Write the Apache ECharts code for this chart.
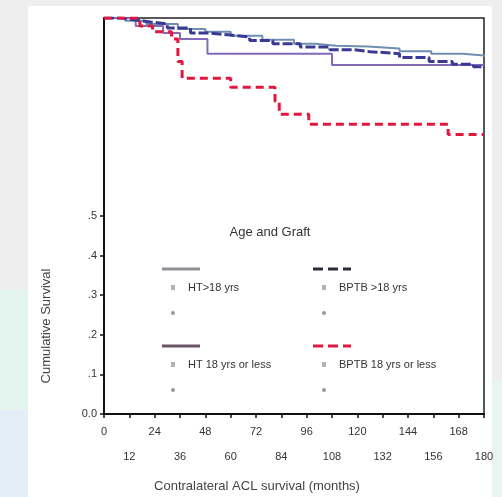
<!DOCTYPE html>
<html>
<head>
<meta charset="utf-8">
<script src="https://cdn.jsdelivr.net/npm/echarts@6/dist/echarts.min.js"></script>
<style>
html,body{margin:0;padding:0;background:#eeeeee;}
#c{width:502px;height:497px;}
</style>
</head>
<body>
<div id="c"></div>
<script>
// ---- data (months, cumulative survival) ----
const htOver18T   = [0, 10, 20, 35, 48, 60, 75, 90, 100, 110, 125, 140, 155, 170, 180];
const htOver18S   = [1.0, 0.993, 0.985, 0.972, 0.965, 0.955, 0.945, 0.935, 0.93, 0.928, 0.923, 0.916, 0.91, 0.905, 0.902];
const bptbOver18T = [0, 8, 15, 22, 30, 41, 50, 60, 69, 80, 93, 107, 118, 126, 140, 154, 165, 175, 180];
const bptbOver18S = [1.0, 0.995, 0.99, 0.985, 0.975, 0.962, 0.957, 0.952, 0.943, 0.935, 0.927, 0.92, 0.915, 0.91, 0.9, 0.89, 0.883, 0.877, 0.875];
const htUnder18T  = [0, 15, 28, 36, 49, 108, 180];
const htUnder18S  = [1.0, 0.98, 0.962, 0.947, 0.91, 0.881, 0.881];
const bptbUnder18T = [0, 17, 23, 32, 35, 37, 60, 81, 83, 97, 163, 180];
const bptbUnder18S = [1.0, 0.98, 0.965, 0.947, 0.89, 0.848, 0.825, 0.79, 0.757, 0.732, 0.706, 0.706];

const seriesNames = ['HT>18 yrs', 'BPTB >18 yrs', 'HT 18 yrs or less', 'BPTB 18 yrs or less'];
const yLabelValues = [0, 0.1, 0.2, 0.3, 0.4, 0.5];
const yLabelTexts  = ['0.0', '.1', '.2', '.3', '.4', '.5'];
const legendTitle = 'Age and Graft';
const xTitle = 'Contralateral ACL survival (months)';
const yTitle = 'Cumulative Survival';

function pairs(t, s) { return t.map((v, i) => [v, s[i]]); }

const FONT = 'Liberation Sans';
const chart = echarts.init(document.getElementById('c'), null, {renderer: 'canvas'});

function legendItem(x, y, name, color, dashed) {
  return [
    {type: 'line', shape: {x1: x, y1: y, x2: x + 38, y2: y},
     style: {stroke: color, lineWidth: 3, lineDash: dashed ? [10, 5] : null}},
    {type: 'rect', shape: {x: x + 9, y: y + 16, width: 4, height: 5}, style: {fill: '#b8b0b8'}},
    {type: 'text', x: x + 26, y: y + 13, style: {text: name, font: '11px ' + FONT, fill: '#333'}},
    {type: 'circle', shape: {cx: x + 11, cy: y + 44, r: 2}, style: {fill: '#999'}}
  ];
}

const option = {
  backgroundColor: 'transparent',
  animation: false,
  graphic: [
    {type: 'rect', z: -100, shape: {x: 28, y: 6, width: 464, height: 491}, style: {fill: '#ffffff'}},
    {type: 'rect', z: -100, shape: {x: 0, y: 290, width: 28, height: 120}, style: {fill: '#e3f5ee'}},
    {type: 'rect', z: -100, shape: {x: 0, y: 410, width: 28, height: 87}, style: {fill: '#e2eff9'}},
    {type: 'rect', z: -100, shape: {x: 492, y: 380, width: 10, height: 117}, style: {fill: '#e6f5f0'}},
    {type: 'text', x: 270, y: 226, style: {text: legendTitle, font: '13px ' + FONT, fill: '#333', align: 'center'}},
    {type: 'text', x: 46, y: 326, rotation: Math.PI / 2,
     style: {text: yTitle, font: '13px ' + FONT, fill: '#444', align: 'center', verticalAlign: 'middle'}},
    {type: 'text', x: 257, y: 480, style: {text: xTitle, font: '13px ' + FONT, fill: '#444', align: 'center'}},
    ...legendItem(162, 269, seriesNames[0], '#8f8f96', false),
    ...legendItem(313, 269, seriesNames[1], '#2a2a3a', true),
    ...legendItem(162, 346, seriesNames[2], '#6a5466', false),
    ...legendItem(313, 346, seriesNames[3], '#e3163e', true)
  ],
  grid: {left: 104, right: 18, top: 18, bottom: 83, show: true, borderColor: '#222', borderWidth: 1.5, backgroundColor: 'transparent'},
  xAxis: {
    type: 'value', min: 0, max: 180, interval: 12,
    axisLine: {lineStyle: {color: '#111', width: 2}},
    axisTick: {show: true, length: 4, lineStyle: {color: '#111', width: 1.5}},
    splitLine: {show: false},
    axisLabel: {
      color: '#333', fontFamily: FONT, fontSize: 11, margin: 5, lineHeight: 25,
      formatter: v => (v % 24 === 0 ? String(v) : '\n' + v)
    }
  },
  yAxis: {
    type: 'value', min: 0, max: 1, interval: 0.1,
    axisLine: {show: true, lineStyle: {color: '#111', width: 2}},
    axisTick: {show: true, length: 4, customValues: yLabelValues, lineStyle: {color: '#111', width: 1.5}},
    splitLine: {show: false},
    axisLabel: {
      color: '#333', fontFamily: FONT, fontSize: 11, margin: 7, customValues: yLabelValues,
      formatter: v => { const i = yLabelValues.findIndex(x => Math.abs(x - v) < 1e-6); return i >= 0 ? yLabelTexts[i] : ''; }
    }
  },
  series: [
    {name: seriesNames[0], type: 'line', step: 'end', symbol: 'none', data: pairs(htOver18T, htOver18S),
     lineStyle: {color: '#6f8fb0', width: 2}},
    {name: seriesNames[2], type: 'line', step: 'end', symbol: 'none', data: pairs(htUnder18T, htUnder18S),
     lineStyle: {color: '#8469b8', width: 2}},
    {name: seriesNames[1], type: 'line', step: 'end', symbol: 'none', data: pairs(bptbOver18T, bptbOver18S),
     lineStyle: {color: '#3a3a96', width: 3, type: [10, 3]}},
    {name: seriesNames[3], type: 'line', step: 'end', symbol: 'none', data: pairs(bptbUnder18T, bptbUnder18S),
     lineStyle: {color: '#e3163e', width: 3, type: [8, 5]}}
  ]
};
chart.setOption(option);
</script>
</body>
</html>
